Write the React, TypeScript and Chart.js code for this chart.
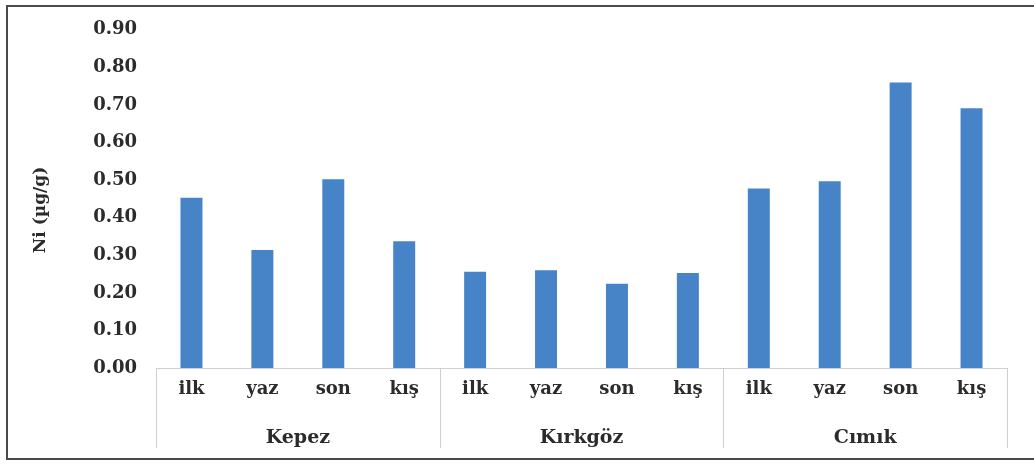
import React, { useEffect, useRef } from "react";
import { Chart, registerables } from "chart.js";

Chart.register(...registerables);

const seasons = ["ilk", "yaz", "son", "kış"];
const sites = ["Kepez", "Kırkgöz", "Cımık"];
const kepez = [0.453, 0.314, 0.502, 0.337];
const kirkgoz = [0.256, 0.26, 0.224, 0.253];
const cimik = [0.478, 0.497, 0.76, 0.691];
const yTitle = "Ni (µg/g)";
const yMax = 0.9;
const yStep = 0.1;

const FONT = "'DejaVu Serif', 'Liberation Serif', serif";
const TEXT = "#2b2b2b";
const BAR = "#4784c7";
const SEP = "#cfcfcf";

export default function App() {
  const ref = useRef<HTMLCanvasElement | null>(null);

  useEffect(() => {
    if (!ref.current) return;
    const labels: string[] = [];
    sites.forEach(() => seasons.forEach((s) => labels.push(s)));
    const values = [...kepez, ...kirkgoz, ...cimik];

    const decor = {
      id: "decor",
      afterDraw(chart: any) {
        const ctx = chart.ctx as CanvasRenderingContext2D;
        const xs = chart.scales.x;
        const area = chart.chartArea;
        const half = (xs.getPixelForValue(1) - xs.getPixelForValue(0)) / 2;
        ctx.save();
        // group separators
        ctx.strokeStyle = SEP;
        ctx.lineWidth = 1;
        for (let g = 0; g <= sites.length; g++) {
          const idx = Math.min(g * seasons.length, labels.length - 1);
          const x =
            g < sites.length
              ? xs.getPixelForValue(idx) - half
              : xs.getPixelForValue(labels.length - 1) + half;
          ctx.beginPath();
          ctx.moveTo(Math.round(x) + 0.5, area.bottom);
          ctx.lineTo(Math.round(x) + 0.5, 448);
          ctx.stroke();
        }
        // group labels
        ctx.fillStyle = TEXT;
        ctx.font = `bold 19px ${FONT}`;
        ctx.textAlign = "center";
        ctx.textBaseline = "middle";
        sites.forEach((name, g) => {
          const a = xs.getPixelForValue(g * seasons.length);
          const b = xs.getPixelForValue(g * seasons.length + seasons.length - 1);
          ctx.fillText(name, (a + b) / 2, 438);
        });
        // y title
        ctx.save();
        ctx.translate(41, 210);
        ctx.rotate(-Math.PI / 2);
        ctx.font = `bold 17px ${FONT}`;
        ctx.fillText(yTitle, 0, 0);
        ctx.restore();
        // outer frame
        ctx.strokeStyle = "#4a4a4a";
        ctx.lineWidth = 2;
        ctx.beginPath();
        ctx.moveTo(1040, 6);
        ctx.lineTo(7, 6);
        ctx.lineTo(7, 459);
        ctx.lineTo(1040, 459);
        ctx.stroke();
        ctx.restore();
      },
    };

    const chart = new Chart(ref.current, {
      type: "bar",
      data: {
        labels,
        datasets: [
          {
            data: values,
            backgroundColor: BAR,
            borderWidth: 0,
            barPercentage: 0.31,
            categoryPercentage: 1,
          },
        ],
      },
      options: {
        responsive: false,
        animation: false,
        layout: { padding: { left: 0, right: 27, top: 27, bottom: 0 } },
        plugins: { legend: { display: false }, tooltip: { enabled: false } },
        scales: {
          x: {
            grid: { display: false, drawTicks: false },
            border: { display: true, color: SEP, width: 1 },
            ticks: {
              color: TEXT,
              font: { family: FONT, size: 18, weight: "bold" },
              padding: 11,
              autoSkip: false,
              maxRotation: 0,
            },
            afterFit(scale: any) {
              scale.height = 467 - 368;
            },
          },
          y: {
            min: 0,
            max: yMax,
            grid: { display: false, drawTicks: false },
            border: { display: false },
            ticks: {
              stepSize: yStep,
              color: TEXT,
              font: { family: FONT, size: 18, weight: "bold" },
              padding: 19,
              callback: (v: any) => Number(v).toFixed(2),
            },
            afterFit(scale: any) {
              scale.width = 156;
            },
          },
        },
      },
      plugins: [decor],
    });
    return () => chart.destroy();
  }, []);

  return (
    <div style={{ position: "fixed", left: 0, top: 0, width: 1034, height: 467, background: "#fff" }}>
      <canvas ref={ref} width={1034} height={467} style={{ display: "block" }} />
    </div>
  );
}
